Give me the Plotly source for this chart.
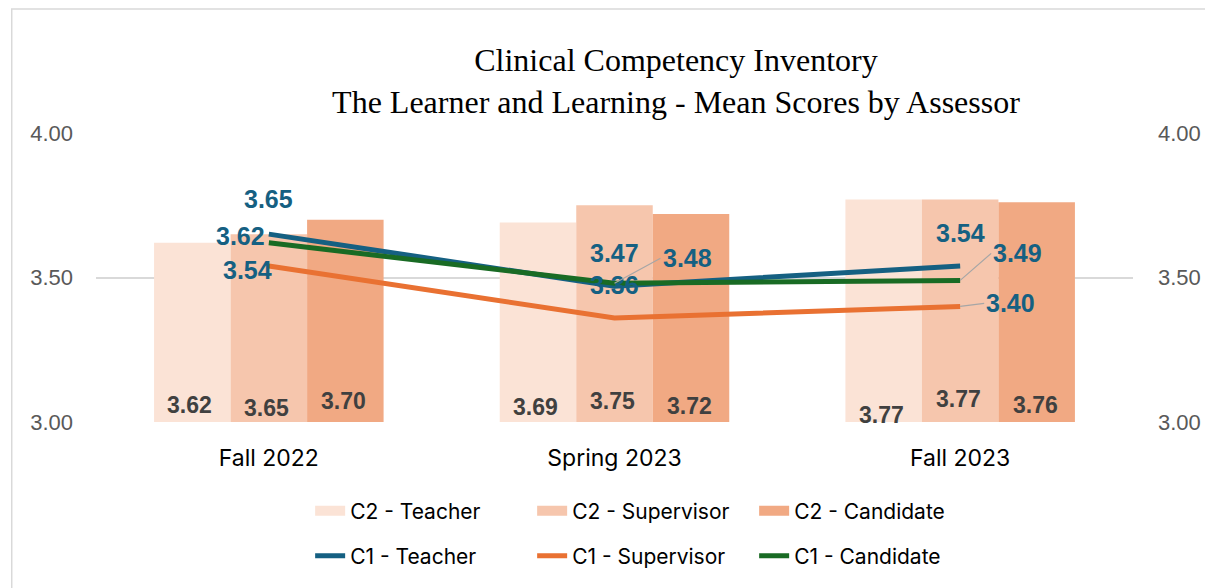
import plotly.graph_objects as go

categories = ["Fall 2022", "Spring 2023", "Fall 2023"]

c2_teacher = [3.62, 3.69, 3.77]
c2_supervisor = [3.65, 3.75, 3.77]
c2_candidate = [3.70, 3.72, 3.76]

c1_teacher = [3.65, 3.47, 3.54]
c1_supervisor = [3.54, 3.36, 3.40]
c1_candidate = [3.62, 3.48, 3.49]

y_ticks = [3.00, 3.50, 4.00]

# page has an 8px body margin; figure is sized so it fills the window
OFF = 8
W, H = 1213 - OFF, 588 - OFF
ML, MR, MT, MB = 88, 71, 125, 166
PW = W - ML - MR
PH = H - MT - MB


def px_x(p):
    """page pixel x -> paper fraction"""
    return (p - OFF - ML) / PW


def px_y(p):
    """page pixel y -> paper fraction"""
    return (H - MB - (p - OFF)) / PH


bar_colors = ["#FBE3D6", "#F6C6AD", "#F1A983"]
line_colors = ["#156082", "#E97132", "#196B24"]
label_color = "#156082"
bar_label_color = "#404040"
BAR_PX = 77

fig = go.Figure()

bar_series = [("C2 - Teacher", c2_teacher, bar_colors[0]),
              ("C2 - Supervisor", c2_supervisor, bar_colors[1]),
              ("C2 - Candidate", c2_candidate, bar_colors[2])]

for name, vals, col in bar_series:
    fig.add_trace(go.Bar(
        x=categories, y=vals, name=name, marker=dict(color=col, line=dict(width=0)),
        showlegend=False, legendgroup=name, hoverinfo="skip",
    ))

# legend swatches for the bar series (wide rectangles like the original)
for name, vals, col in bar_series:
    fig.add_trace(go.Scatter(
        x=[None], y=[None], name=name, mode="lines", legendgroup=name,
        line=dict(color=col, width=16), legend="legend", hoverinfo="skip",
    ))

for name, vals, col in [("C1 - Teacher", c1_teacher, line_colors[0]),
                        ("C1 - Supervisor", c1_supervisor, line_colors[1]),
                        ("C1 - Candidate", c1_candidate, line_colors[2])]:
    fig.add_trace(go.Scatter(
        x=categories, y=vals, name=name, mode="lines",
        line=dict(color=col, width=5), yaxis="y2", legend="legend2",
        hoverinfo="skip",
    ))

annotations = []

# bar value labels near the base of each bar (small vertical offsets as in the original)
bar_label_yshift = [[3, 0, 7], [1, 7, 2], [-7, 9, 3]]
for j, (name, vals, col) in enumerate(bar_series):
    for i, v in enumerate(vals):
        annotations.append(dict(
            x=categories[i], y=3.0, xref="x", yref="y", text=f"{v:.2f}", showarrow=False,
            xanchor="center", yanchor="middle", xshift=(j - 1) * BAR_PX - 2,
            yshift=14 + bar_label_yshift[i][j],
            font=dict(family="Liberation Sans", size=23, color=bar_label_color, weight="bold"),
        ))

# line label placement styles
label_styles = {
    ("t", 0): dict(xanchor="center", yanchor="middle", yshift=35),
    ("t", 1): dict(xanchor="center", yanchor="middle", yshift=33),
    ("t", 2): dict(xanchor="center", yanchor="middle", yshift=33),
    ("c", 0): dict(xanchor="right", yanchor="middle", xshift=-2, yshift=7),
    ("c", 1): dict(xanchor="left", yanchor="middle", arrow=(46, -25)),
    ("c", 2): dict(xanchor="left", yanchor="middle", arrow=(31, -27)),
    ("s", 0): dict(xanchor="right", yanchor="middle", xshift=5, yshift=-4),
    ("s", 1): dict(xanchor="center", yanchor="middle", yshift=33),
    ("s", 2): dict(xanchor="left", yanchor="middle", arrow=(24, -3)),
}

series_vals = {"t": c1_teacher, "s": c1_supervisor, "c": c1_candidate}
for key, vals in series_vals.items():
    for i, v in enumerate(vals):
        st = dict(label_styles[(key, i)])
        arrow = st.pop("arrow", None)
        ann = dict(x=categories[i], y=v, xref="x", yref="y2", text=f"{v:.2f}",
                   font=dict(family="Liberation Sans", size=25, color=label_color, weight="bold"),
                   **st)
        if arrow:
            ann.update(showarrow=True, ax=arrow[0], ay=arrow[1], axref="pixel", ayref="pixel",
                       arrowhead=0, arrowwidth=1.2, arrowcolor="#A6A6A6", standoff=0)
        else:
            ann.update(showarrow=False)
        annotations.append(ann)

# chart-area border (left and top edges visible in the original)
bx0, bx1, by0, by1 = px_x(11), px_x(1240), px_y(620), px_y(9)
shapes = [dict(type="path", xref="paper", yref="paper",
               path=f"M {bx0} {by0} L {bx0} {by1} L {bx1} {by1}",
               line=dict(color="#D9D9D9", width=1.5), layer="below")]

tick_font = dict(family="Liberation Sans", size=22, color="#595959")
legend_font = dict(family="Inter", size=21, color="#000000")

fig.update_layout(
    width=W, height=H,
    margin=dict(l=ML, r=MR, t=MT, b=MB),
    paper_bgcolor="white", plot_bgcolor="white",
    barmode="group", bargap=0.336, bargroupgap=0,
    title=dict(text="Clinical Competency Inventory<br>The Learner and Learning - Mean Scores by Assessor",
               font=dict(family="Liberation Serif", size=32, color="#000000"),
               x=px_x(681), xref="paper", xanchor="center",
               y=1 - (71 - OFF) / H, yref="container", yanchor="middle"),
    xaxis=dict(showgrid=False, showline=False, ticks="", zeroline=False,
               tickfont=dict(family="Inter", size=23, color="#000000"),
               ticklabelstandoff=20),
    yaxis=dict(range=[3, 4], tickvals=y_ticks, tickformat=".2f", showgrid=True,
               gridcolor="#D9D9D9", gridwidth=1.5, zeroline=False, showline=False,
               ticks="", tickfont=tick_font, ticklabelstandoff=22),
    yaxis2=dict(range=[3, 4], tickvals=y_ticks, tickformat=".2f", overlaying="y", side="right",
                showgrid=False, zeroline=False, showline=False, ticks="",
                tickfont=tick_font, ticklabelstandoff=24),
    legend=dict(orientation="h", x=px_x(312), xanchor="left", y=px_y(511), yanchor="middle",
                entrywidth=177, entrywidthmode="pixels", traceorder="normal",
                font=legend_font, bgcolor="rgba(0,0,0,0)"),
    legend2=dict(orientation="h", x=px_x(312), xanchor="left", y=px_y(556), yanchor="middle",
                 entrywidth=177, entrywidthmode="pixels", traceorder="normal",
                 font=legend_font, bgcolor="rgba(0,0,0,0)"),
    annotations=annotations,
    shapes=shapes,
    showlegend=True,
)

fig.write_html("out.html")
